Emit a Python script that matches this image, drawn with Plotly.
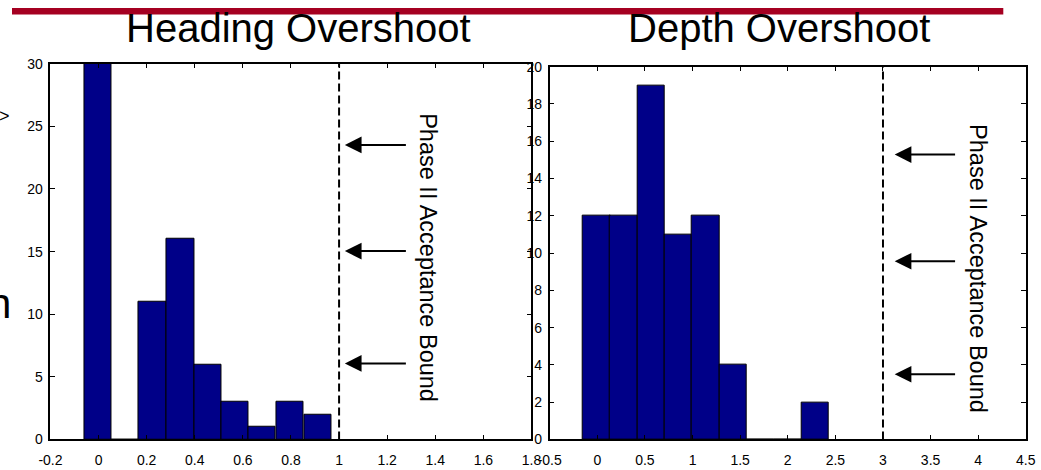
import plotly.graph_objects as go

# histogram data
heading_centers = [-0.002, 0.111, 0.224, 0.340, 0.454, 0.567, 0.680, 0.795, 0.912]
heading_counts = [30, 0, 11, 16, 6, 3, 1, 3, 2]
heading_bin_width = 0.1143

depth_centers = [-0.005, 0.278, 0.566, 0.852, 1.140, 1.425, 1.710, 2.000, 2.285]
depth_counts = [12, 12, 19, 11, 12, 4, 0, 0, 2]
depth_bin_width = 0.2875

heading_bound = 1.0
depth_bound = 3.0

heading_xticks = [-0.2, 0, 0.2, 0.4, 0.6, 0.8, 1, 1.2, 1.4, 1.6, 1.8]
heading_xlabels = ["-0.2", "0", "0.2", "0.4", "0.6", "0.8", "1", "1.2", "1.4", "1.6", "1.8"]
heading_yticks = [0, 5, 10, 15, 20, 25, 30]
depth_xticks = [-0.5, 0, 0.5, 1, 1.5, 2, 2.5, 3, 3.5, 4, 4.5]
depth_xlabels = ["-0.5", "0", "0.5", "1", "1.5", "2", "2.5", "3", "3.5", "4", "4.5"]
depth_yticks = [0, 2, 4, 6, 8, 10, 12, 14, 16, 18, 20]

BAR_COLOR = "#000088"
FONT = "Liberation Sans, Arial, Helvetica, sans-serif"
W, H = 1041, 470

fig = go.Figure()
fig.add_trace(go.Bar(x=heading_centers, y=heading_counts, width=heading_bin_width,
                     marker=dict(color=BAR_COLOR, line=dict(color="black", width=1)),
                     xaxis="x", yaxis="y"))
fig.add_trace(go.Bar(x=depth_centers, y=depth_counts, width=depth_bin_width,
                     marker=dict(color=BAR_COLOR, line=dict(color="black", width=1)),
                     xaxis="x2", yaxis="y2"))

axis_style = dict(showgrid=False, zeroline=False, showline=True, linecolor="black", linewidth=1.5,
                  mirror="ticks", ticks="inside", ticklen=5, tickwidth=1, tickcolor="black",
                  tickfont=dict(family=FONT, size=14, color="black"))
x_style = dict(ticklabelstandoff=7, **axis_style)
y_style = dict(ticklabelstandoff=3, **axis_style)

fig.update_layout(
    width=W, height=H, margin=dict(l=0, r=0, t=0, b=0),
    paper_bgcolor="white", plot_bgcolor="white", showlegend=False, bargap=0,
    font=dict(family=FONT, color="black"),
    xaxis=dict(domain=[39.3 / W, 530.7 / W], range=[-0.2, 1.8], tickvals=heading_xticks,
               ticktext=heading_xlabels, anchor="y", **x_style),
    yaxis=dict(domain=[(H - 446.7) / H, (H - 57.7) / H], range=[0, 30], tickvals=heading_yticks,
               anchor="x", **y_style),
    xaxis2=dict(domain=[549.3 / W, 1035.7 / W], range=[-0.5, 4.5], tickvals=depth_xticks,
                ticktext=depth_xlabels, anchor="y2", **x_style),
    yaxis2=dict(domain=[(H - 446.7) / H, (H - 60.7) / H], range=[0, 20], tickvals=depth_yticks,
                anchor="x2", **y_style),
)

# red rule along the top of the slide
fig.add_shape(type="rect", xref="paper", yref="paper", x0=0, x1=1012.7 / W,
              y0=(H - 6.7) / H, y1=1, fillcolor="#A50021", line=dict(width=0))

# acceptance bounds
fig.add_shape(type="line", xref="x", yref="y", x0=heading_bound, x1=heading_bound, y0=0, y1=30,
              line=dict(color="black", width=2, dash="8px,4px"))
fig.add_shape(type="line", xref="x2", yref="y2", x0=depth_bound, x1=depth_bound, y0=0, y1=20.2,
              line=dict(color="black", width=2, dash="8px,4px"))

# titles
fig.add_annotation(text="Heading Overshoot", xref="paper", yref="paper", x=293 / W, y=(H - 21) / H,
                   showarrow=False, xanchor="center", yanchor="middle",
                   font=dict(family=FONT, size=40, color="black"))
fig.add_annotation(text="Depth Overshoot", xref="paper", yref="paper", x=784 / W, y=(H - 21) / H,
                   showarrow=False, xanchor="center", yanchor="middle",
                   font=dict(family=FONT, size=40, color="black"))

# rotated labels
fig.add_annotation(text="Phase II Acceptance Bound", xref="x", yref="y", x=1.37, y=14.55,
                   textangle=90, showarrow=False, font=dict(family=FONT, size=23.5, color="black"))
fig.add_annotation(text="Phase II Acceptance Bound", xref="x2", yref="y2", x=3.99, y=9.18,
                   textangle=90, showarrow=False, font=dict(family=FONT, size=23.5, color="black"))

# arrows pointing at the bound
for yy in [23.52, 15.04, 6.07]:
    fig.add_annotation(x=1.024, y=yy, ax=1.284, ay=yy, xref="x", yref="y", axref="x", ayref="y",
                       text="", showarrow=True, arrowhead=2, arrowsize=1.67, arrowwidth=2,
                       arrowcolor="black")
for yy in [15.28, 9.56, 3.50]:
    fig.add_annotation(x=3.123, y=yy, ax=3.773, ay=yy, xref="x2", yref="y2", axref="x2", ayref="y2",
                       text="", showarrow=True, arrowhead=2, arrowsize=1.67, arrowwidth=2,
                       arrowcolor="black")

# fragments of slide text cut off at the left edge
fig.add_annotation(text=">", xref="paper", yref="paper", x=0, y=(H - 112) / H, showarrow=False,
                   xanchor="right", yanchor="middle", font=dict(family=FONT, size=18, color="black"))
fig.add_annotation(text="n", xref="paper", yref="paper", x=1 / W, y=(H - 306) / H, showarrow=False,
                   xanchor="right", yanchor="middle", font=dict(family=FONT, size=42, color="black"))

fig.write_html("out.html", config={"displayModeBar": False},
               post_script="document.body.style.margin='0';")
